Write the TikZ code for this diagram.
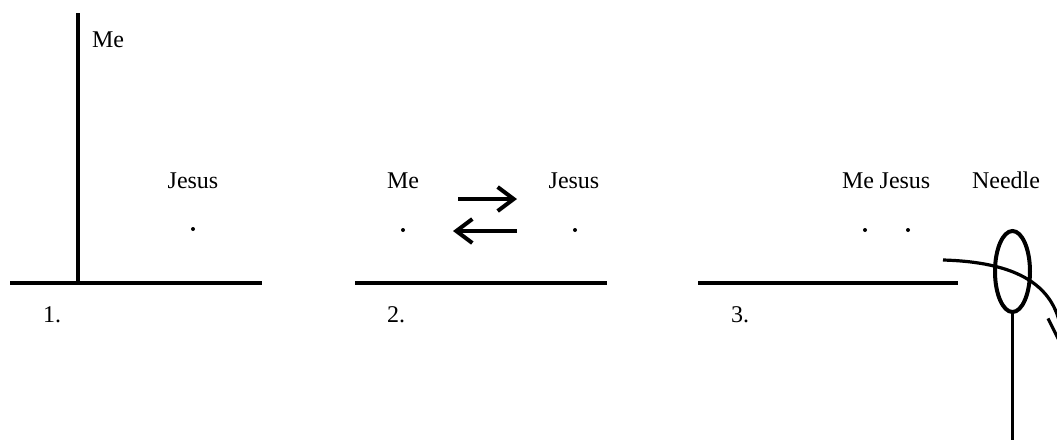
\documentclass[tikz,border=0pt]{standalone}
\usepackage{fontspec}
\setmainfont{Liberation Serif}
\usetikzlibrary{positioning,arrows.meta,shapes.geometric}
\tikzset{
  ground/.style={line width=2.2pt},
  axisline/.style={line width=2pt},
  lbl/.style={font=\fontsize{12}{14}\selectfont, inner sep=0pt, anchor=base},
  pt/.style={circle, fill=black, inner sep=0pt, minimum size=2pt},
  arr/.style={-{Straight Barb[length=8pt,width=12pt]}, line width=2pt},
  thread/.style={-{Straight Barb[length=14pt,width=14pt]}, line width=1.6pt},
}

\begin{document}
\begin{tikzpicture}[x=0.5pt,y=-0.5pt]
  \clip (0,0) rectangle (1057,446);
  % 1.
  \coordinate (g1a) at (10,283);
  \coordinate (g1b) at (262,283);
  \coordinate (top1) at (78,13);
  \draw[ground] (g1a) -- (g1b);
  \draw[axisline] (top1) -- (top1 |- g1a);
  \node[lbl] (me1) at (108,47) {Me};
  \node[lbl] (jesus1) at (193,188) {Jesus};
  \node[pt] (pj1) at (193,229) {};
  \node[lbl] (n1) at (52,322) {1.};
  % 2.
  \coordinate (g2a) at (355,283);
  \coordinate (g2b) at (607,283);
  \draw[ground] (g2a) -- (g2b);
  \node[lbl] (me2) at (403,188) {Me};
  \node[lbl] (jesus2) at (574,188) {Jesus};
  \node[pt] (pm2) at (403,230) {};
  \node[pt] (pj2) at (575,230) {};
  \coordinate (a1s) at (458,199);
  \coordinate (a1e) at (517,199);
  \coordinate (a2s) at (517,231);
  \coordinate (a2e) at (453,231);
  \draw[arr] (a1s) -- (a1e);
  \draw[arr] (a2s) -- (a2e);
  \node[lbl] (n2) at (396,322) {2.};
  % 3.
  \coordinate (g3a) at (698,283);
  \coordinate (g3b) at (958,283);
  \draw[ground] (g3a) -- (g3b);
  \node[lbl] (me3) at (858,188) {Me};
  \node[lbl] (jesus3) at (905,188) {Jesus};
  \node[pt] (pm3) at (865,230) {};
  \node[pt] (pj3) at (908,230) {};
  \node[lbl] (n3) at (740,322) {3.};
  \node[lbl] (needle) at (1006,188) {Needle};
  \node[draw, ellipse, line width=2pt, inner sep=0pt,
        minimum width=17.5pt, minimum height=40.5pt] (eye) at (1012.5,271.5) {};
  \coordinate (tip) at (1012.5,440);
  \draw[line width=1.8pt] (eye.south) -- (tip);
  \coordinate (ts) at (943,260);
  \coordinate (te) at (1062,350);
  \draw[thread] (ts) .. controls (1012,262) and (1062,282) .. (te);
\end{tikzpicture}
\end{document}
